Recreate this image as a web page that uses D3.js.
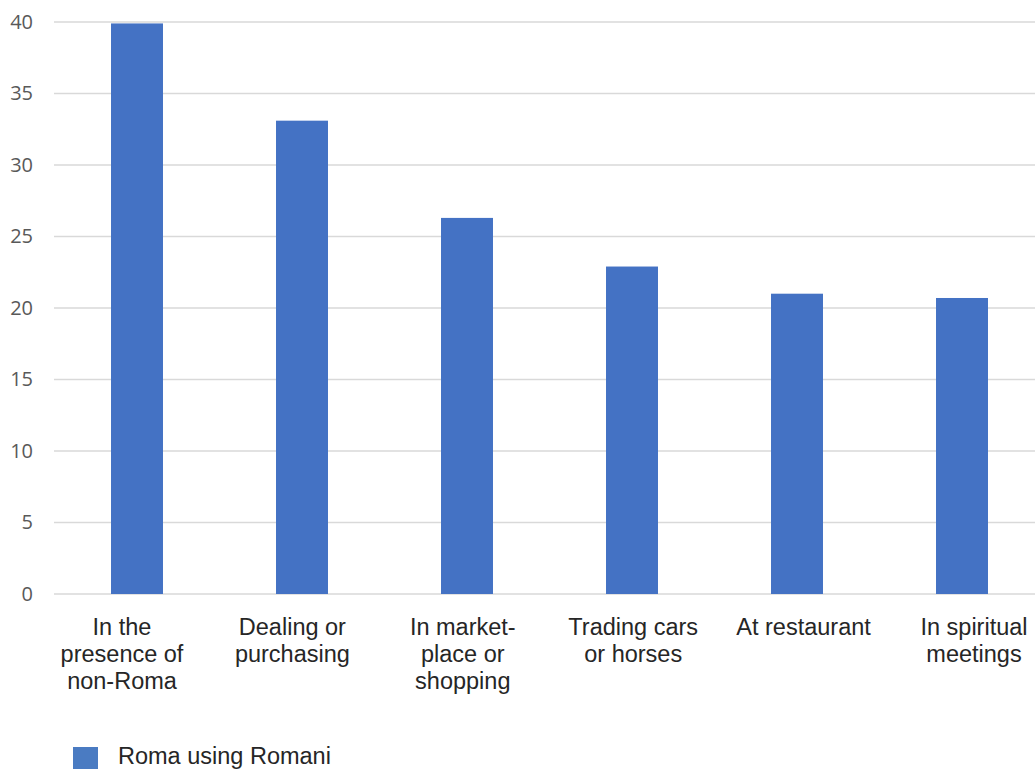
<!DOCTYPE html>
<html><head><meta charset="utf-8">
<script src="https://cdn.jsdelivr.net/npm/d3@7"></script>
<style>body{margin:0;background:#fff;} svg{display:block;}</style>
</head><body>
<svg id="chart" width="1035" height="769"></svg>
<script>
const categories = [
  ["In the","presence of","non-Roma"],
  ["Dealing or","purchasing"],
  ["In market-","place or","shopping"],
  ["Trading cars","or horses"],
  ["At restaurant"],
  ["In spiritual","meetings"]
];
const values = [39.9, 33.1, 26.3, 22.9, 21.0, 20.7];
const yTicks = [0, 5, 10, 15, 20, 25, 30, 35, 40];
const seriesName = "Roma using Romani";

const svg = d3.select("#chart");
const ids = categories.map((c,i)=>i);
const x = d3.scaleBand().domain(ids).range([54.5, 1044.5]).paddingInner(0.685).paddingOuter(0.3425);
const xLab = d3.scalePoint().domain(ids).range([122, 974]);
const y = d3.scaleLinear().domain([0, 40]).range([594, 22]);

// gridlines
svg.append("g").selectAll("line").data(yTicks).join("line")
  .attr("x1", 54).attr("x2", 1035)
  .attr("y1", d=>y(d)).attr("y2", d=>y(d))
  .attr("stroke", "#d9d9d9").attr("stroke-width", 1.5);

// y axis labels
const yAxis = d3.axisLeft(y).tickValues(yTicks).tickSize(0).tickPadding(0);
const gy = svg.append("g").attr("transform","translate(33,0)").call(yAxis);
gy.select(".domain").remove();
gy.selectAll("text").attr("font-family","'Open Sans', sans-serif").attr("font-size",20).attr("fill","#595959");

// bars
svg.append("g").selectAll("rect").data(values).join("rect")
  .attr("x", (d,i)=>x(i)).attr("width", x.bandwidth())
  .attr("y", d=>y(d)).attr("height", d=>y(0)-y(d))
  .attr("fill", "#4472C4");

// category labels
const lab = svg.append("g").selectAll("text").data(categories).join("text")
  .attr("text-anchor","middle")
  .attr("font-family","'Liberation Sans', Arial, sans-serif")
  .attr("font-size",23.5).attr("fill","#262626")
  .attr("x",(d,i)=>xLab(i)).attr("y",635);
lab.selectAll("tspan").data(d=>d).join("tspan")
  .attr("x", function(){return d3.select(this.parentNode).attr("x");})
  .attr("dy",(d,j)=>j===0?0:27).text(d=>d);

// legend
const lg = svg.append("g");
lg.append("rect").attr("x",73).attr("y",747).attr("width",25).attr("height",25).attr("fill","#4a7bc2");
lg.append("text").attr("x",118).attr("y",764)
  .attr("font-family","'Liberation Sans', Arial, sans-serif")
  .attr("font-size",23.5).attr("fill","#262626").text(seriesName);
</script>
</body></html>
